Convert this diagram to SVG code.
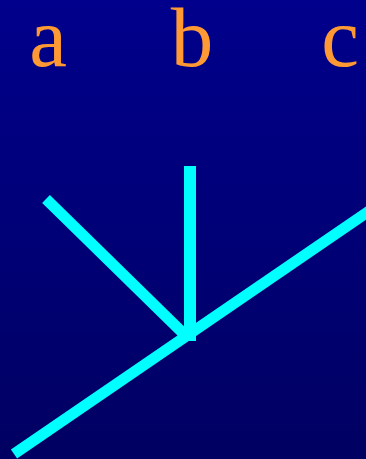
<svg xmlns="http://www.w3.org/2000/svg" width="366" height="459" viewBox="0 0 366 459">
<defs>
<linearGradient id="bg" x1="0" y1="0" x2="0" y2="1">
<stop offset="0" stop-color="#00008C"/>
<stop offset="1" stop-color="#000062"/>
</linearGradient>
<style>
.lbl{font-family:"Liberation Serif","Times New Roman",serif;font-size:85px;fill:#FF9933;text-anchor:middle}
.edge{stroke:#00FFFF;stroke-width:11;fill:none;stroke-linecap:butt}
</style>
</defs>
<rect width="366" height="459" fill="url(#bg)"/>
<g id="labels">
<g id="node-a"><text class="lbl" x="48" y="66">a</text></g>
<g id="node-b"><text class="lbl" x="192" y="66">b</text></g>
<g id="node-c"><text class="lbl" x="340" y="66">c</text></g>
</g>
<g id="connectors">
<line class="edge" x1="14" y1="454" x2="372" y2="209"/>
<line class="edge" x1="46" y1="199" x2="188" y2="338"/>
<line class="edge" x1="190" y1="166" x2="190" y2="341" style="stroke-width:12"/>
</g>
</svg>
